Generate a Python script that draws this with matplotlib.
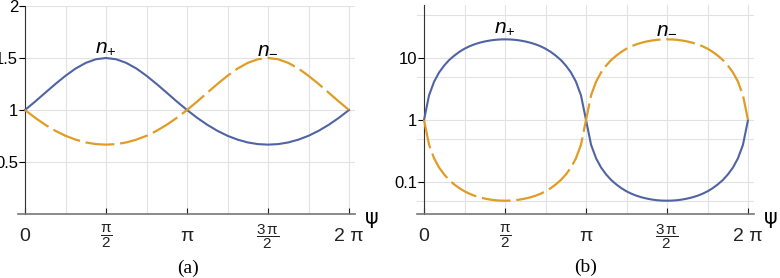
import numpy as np
import matplotlib.pyplot as plt

plt.rcParams['font.family'] = ['Liberation Sans', 'DejaVu Sans']
plt.rcParams['mathtext.fontset'] = 'custom'
plt.rcParams['mathtext.rm'] = 'Liberation Sans'
plt.rcParams['mathtext.it'] = 'Liberation Sans:italic'

# (a) linear panel, sampled every pi/16
psi_a = np.linspace(0, 2 * np.pi, 33)
n_plus_a = [1.000, 1.081, 1.166, 1.250, 1.329, 1.399, 1.453, 1.488, 1.500,
            1.488, 1.453, 1.399, 1.329, 1.250, 1.166, 1.081, 1.000,
            0.925, 0.858, 0.800, 0.752, 0.715, 0.688, 0.672, 0.667,
            0.672, 0.688, 0.715, 0.752, 0.800, 0.858, 0.925, 1.000]
n_minus_a = [1.000, 0.925, 0.858, 0.800, 0.752, 0.715, 0.688, 0.672, 0.667,
             0.672, 0.688, 0.715, 0.752, 0.800, 0.858, 0.925, 1.000,
             1.081, 1.166, 1.250, 1.329, 1.399, 1.453, 1.488, 1.500,
             1.488, 1.453, 1.399, 1.329, 1.250, 1.166, 1.081, 1.000]

# (b) log panel, sampled every pi/32
psi_b = np.linspace(0, 2 * np.pi, 65)
n_plus_b = [1.000, 2.51, 4.17, 5.89, 7.59, 9.33, 10.96, 12.59, 14.13,
            15.49, 16.67, 17.66, 18.49, 19.14, 19.63, 19.91, 20.00,
            19.91, 19.63, 19.14, 18.49, 17.66, 16.67, 15.49, 14.13,
            12.59, 10.96, 9.33, 7.59, 5.89, 4.17, 2.51, 1.000,
            0.398, 0.240, 0.170, 0.1318, 0.1072, 0.0912, 0.0794, 0.0708,
            0.0646, 0.0600, 0.0566, 0.0541, 0.0522, 0.0509, 0.0502, 0.0500,
            0.0502, 0.0509, 0.0522, 0.0541, 0.0566, 0.0600, 0.0646, 0.0708,
            0.0794, 0.0912, 0.1072, 0.1318, 0.170, 0.240, 0.398, 1.000]
n_minus_b = [1.000, 0.398, 0.240, 0.170, 0.1318, 0.1072, 0.0912, 0.0794, 0.0708,
             0.0646, 0.0600, 0.0566, 0.0541, 0.0522, 0.0509, 0.0502, 0.0500,
             0.0502, 0.0509, 0.0522, 0.0541, 0.0566, 0.0600, 0.0646, 0.0708,
             0.0794, 0.0912, 0.1072, 0.1318, 0.170, 0.240, 0.398, 1.000,
             2.51, 4.17, 5.89, 7.59, 9.33, 10.96, 12.59, 14.13,
             15.49, 16.67, 17.66, 18.49, 19.14, 19.63, 19.91, 20.00,
             19.91, 19.63, 19.14, 18.49, 17.66, 16.67, 15.49, 14.13,
             12.59, 10.96, 9.33, 7.59, 5.89, 4.17, 2.51, 1.000]

xtick_pos = [0, np.pi / 2, np.pi, 3 * np.pi / 2, 2 * np.pi]
xtick_labels = ['0', r'$\dfrac{\mathrm{\pi}}{2}$', 'π', r'$\dfrac{3\,\mathrm{\pi}}{2}$', '2 π']
xtick_sizes = [14, 11, 14, 11, 14]
yticks_a = [0.5, 1, 1.5, 2]
yticklabels_a = ['0.5', '1', '1.5', '2']
yticks_b = [0.1, 1, 10]
yticklabels_b = ['0.1', '1', '10']
ygrid_b = [0.05, 0.1, 0.5, 1, 5, 10, 50]

blue = '#5063A3'
orange = '#E09C24'
grid_c = '#E2E2E2'


def style_axes(ax):
    ax.set_xlim(-0.136, 2 * np.pi + 0.116)
    ax.spines['top'].set_visible(False)
    ax.spines['right'].set_visible(False)
    ax.spines['left'].set_position(('data', 0))
    ax.spines['left'].set_color('#333333')
    ax.spines['bottom'].set_color('#777777')
    ax.spines['bottom'].set_linewidth(1.2)
    ax.set_xticks(xtick_pos)
    labs = ax.set_xticklabels(xtick_labels, va='center')
    for lab, fs in zip(labs, xtick_sizes):
        lab.set_fontsize(fs)
    ax.tick_params(axis='x', direction='in', length=4, width=0.8, pad=16, colors='#222222')
    ax.tick_params(axis='y', direction='out', length=4, width=0.8, pad=1, labelsize=12)
    for xv in np.arange(0, 9) * np.pi / 4:
        ax.axvline(xv, color=grid_c, lw=0.8, zorder=0)
    ax.annotate('ψ', xy=(1, 0), xycoords='axes fraction', xytext=(12, -3),
                textcoords='offset points', ha='center', va='center',
                fontsize=15, family='DejaVu Sans')


fig = plt.figure(figsize=(7.8, 2.78), dpi=100)

# panel (a)
ax1 = fig.add_axes([18 / 780, 64 / 278, 337 / 780, 208 / 278])
style_axes(ax1)
ax1.set_ylim(0, 2)
ax1.set_yticks(yticks_a)
ax1.set_yticklabels(yticklabels_a)
for yv in yticks_a:
    ax1.axhline(yv, color=grid_c, lw=0.8, zorder=0)
ax1.plot(psi_a, n_plus_a, color=blue, lw=1.5, zorder=3)
ax1.plot(psi_a, n_minus_a, color=orange, lw=1.6, dashes=(13, 2.6), zorder=4)
ax1.text(np.pi / 2, 1.55, r'$n_{+}$', ha='center', va='baseline', fontsize=15)
ax1.text(3 * np.pi / 2, 1.55, r'$n_{-}$', ha='center', va='baseline', fontsize=15)

# panel (b)
ax2 = fig.add_axes([417 / 780, 64 / 278, 337 / 780, 209 / 278])
ax2.set_yscale('log')
style_axes(ax2)
ax2.set_ylim(0.0305, 71.6)
ax2.set_yticks(yticks_b)
ax2.set_yticklabels(yticklabels_b)
ax2.yaxis.set_minor_locator(plt.NullLocator())
for yv in ygrid_b:
    ax2.axhline(yv, color=grid_c, lw=0.8, zorder=0)
ax2.plot(psi_b, n_plus_b, color=blue, lw=1.5, zorder=3)
ax2.plot(psi_b, n_minus_b, color=orange, lw=1.6, dashes=(13, 2.6), zorder=4)
ax2.text(np.pi / 2, 25.3, r'$n_{+}$', ha='center', va='baseline', fontsize=15)
ax2.text(3 * np.pi / 2, 25.3, r'$n_{-}$', ha='center', va='baseline', fontsize=15)

fig.text(188 / 780, 1 - 268 / 278, '(a)', ha='center', va='center', fontsize=14, family='Liberation Serif')
fig.text(586 / 780, 1 - 267 / 278, '(b)', ha='center', va='center', fontsize=14, family='Liberation Serif')

fig.savefig('out.png', dpi=100)
